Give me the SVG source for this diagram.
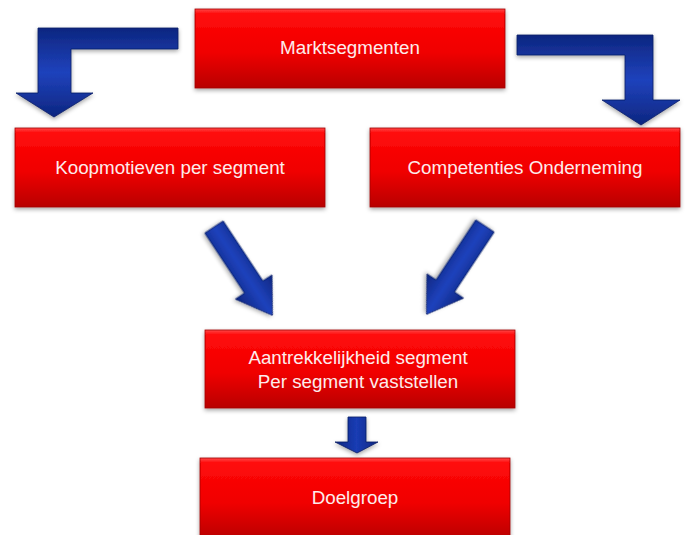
<svg xmlns="http://www.w3.org/2000/svg" width="688" height="535" viewBox="0 0 688 535">
<defs>
<linearGradient id="red" x1="0" y1="0" x2="0" y2="1">
<stop offset="0" stop-color="#ff4a4a"/>
<stop offset="0.06" stop-color="#ff0a0a"/>
<stop offset="0.55" stop-color="#f00000"/>
<stop offset="1" stop-color="#b80000"/>
</linearGradient>
<linearGradient id="blueV" x1="0" y1="0" x2="1" y2="0">
<stop offset="0" stop-color="#0d2680"/>
<stop offset="0.5" stop-color="#1a3cb4"/>
<stop offset="1" stop-color="#0d2680"/>
</linearGradient>
<linearGradient id="blueH" x1="0" y1="0" x2="0" y2="1">
<stop offset="0" stop-color="#0d2680"/>
<stop offset="0.5" stop-color="#1f42bc"/>
<stop offset="1" stop-color="#0d2680"/>
</linearGradient>
<filter id="sh" x="-10%" y="-10%" width="120%" height="130%">
<feDropShadow dx="0" dy="2" stdDeviation="2" flood-color="#000" flood-opacity="0.35"/>
</filter>
<style>
.box{fill:url(#red);stroke:#a00000;stroke-width:0.8;filter:url(#sh)}
.lbl{font-family:"Liberation Sans",Arial,sans-serif;font-size:18.8px;fill:#fdecec;text-anchor:middle}
.arr{stroke:#0a1e66;stroke-width:0.8;stroke-linejoin:miter;filter:url(#sh)}
</style>
</defs>
<g id="connectors">
<path class="arr" fill="url(#blueH)" d="M178,28 L178,49 L71,49 L71,93 L93,93 L54,117 L16,93 L38,93 L38,28 Z"/>
<path class="arr" fill="url(#blueH)" d="M517,35 L653,35 L653,100 L680,100 L641,125 L602,100 L625,100 L625,55 L517,55 Z"/>
<g transform="translate(214,227) rotate(56.5)">
<path class="arr" fill="url(#blueH)" d="M0,-11 L72,-11 L72,-22 L106,0 L72,22 L72,11 L0,11 Z"/>
</g>
<g transform="translate(485,226) rotate(123.5)">
<path class="arr" fill="url(#blueH)" d="M0,-11 L72,-11 L72,-22 L106,0 L72,22 L72,11 L0,11 Z"/>
</g>
<path class="arr" fill="url(#blueV)" d="M348,417 L366,417 L366,442 L378,442 L357,453 L335,442 L348,442 Z"/>
</g>
<g id="marktsegmenten">
<rect class="box" x="195" y="9" width="310" height="79"/>
<text class="lbl" x="350" y="54">Marktsegmenten</text>
</g>
<g id="koopmotieven">
<rect class="box" x="15" y="128" width="310" height="79"/>
<text class="lbl" x="170" y="174">Koopmotieven per segment</text>
</g>
<g id="competenties">
<rect class="box" x="370" y="128" width="310" height="79"/>
<text class="lbl" x="525" y="174">Competenties Onderneming</text>
</g>
<g id="aantrekkelijkheid">
<rect class="box" x="205" y="330" width="310" height="78"/>
<text class="lbl" x="358" y="364">Aantrekkelijkheid segment</text>
<text class="lbl" x="358" y="388">Per segment vaststellen</text>
</g>
<g id="doelgroep">
<rect class="box" x="200" y="458" width="310" height="82"/>
<text class="lbl" x="355" y="504">Doelgroep</text>
</g>
</svg>
